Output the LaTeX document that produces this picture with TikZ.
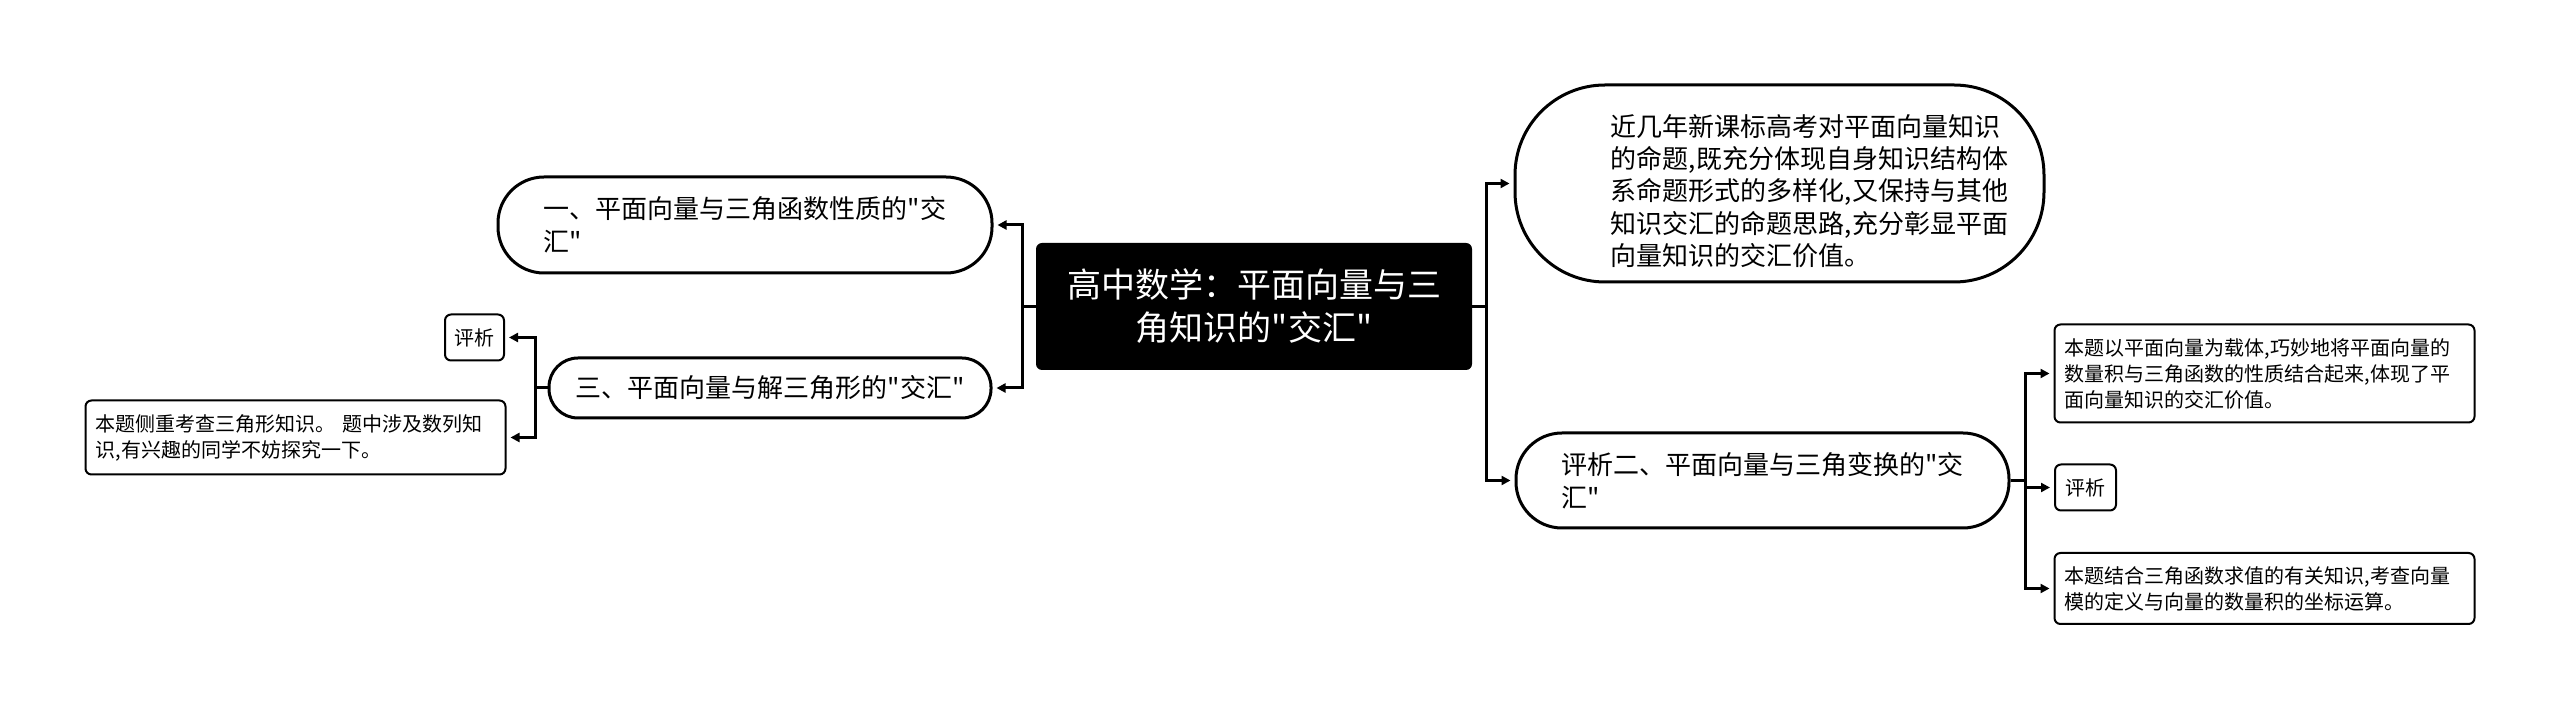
\documentclass[tikz,border=0pt]{standalone}
\usepackage{fontspec}
\setmainfont{Noto Sans CJK SC}[Ligatures=TeXOff]
\usetikzlibrary{arrows.meta}

\begin{document}
\begin{tikzpicture}[x=0.5pt, y=-0.5pt,
  root/.style={fill=black, text=white, rounded corners=3pt,
    minimum width=218pt, minimum height=63.5pt, align=center,
    font=\fontsize{17pt}{21.5pt}\selectfont},
  topic/.style={draw, line width=1.5pt, align=left,
    font=\fontsize{13pt}{16.5pt}\selectfont},
  leaf/.style={draw, line width=1pt, rounded corners=3pt, align=left,
    font=\fontsize{10pt}{13pt}\selectfont},
  memo/.style={leaf, text width=200pt, inner xsep=5pt},
  arr/.style={-{Triangle[length=4.5pt, width=4.5pt]}, line width=1.5pt,
    shorten >=2pt},
]
  \useasboundingbox (0,0) rectangle (2560,710);

  \node[root] (root) at (1254,306.5)
    {高中数学：平面向量与三\\角知识的"交汇"};

  % right side
  \node[topic, rounded corners=45pt, minimum width=264.5pt,
    minimum height=98.5pt, font=\fontsize{13pt}{16.2pt}\selectfont]
    (intro) at (1779.5,183.5)
    {\hspace*{30pt}\raisebox{-5.5pt}[\height][\depth]{\begin{tabular}{@{}l@{}}
      近几年新课标高考对平面向量知识\\的命题,既充分体现自身知识结构体\\
      系命题形式的多样化,又保持与其他\\知识交汇的命题思路,充分彰显平面\\
      向量知识的交汇价值。\end{tabular}}};
  \node[topic, rounded corners=23pt, minimum width=246.5pt,
    minimum height=47.5pt] (two) at (1762.5,480.5)
    {评析二、平面向量与三角变换的"交\\汇"};
  \node[memo, minimum height=49pt] (twoa) at (2264.5,373.5)
    {本题以平面向量为载体,巧妙地将平面向量的\\数量积与三角函数的性质结合起来,体现了平\\面向量知识的交汇价值。};
  \node[leaf, minimum width=30.5pt, minimum height=23pt] (twob)
    at (2085.5,487.5) {评析};
  \node[memo, minimum height=35.5pt] (twoc) at (2264.5,588.5)
    {本题结合三角函数求值的有关知识,考查向量\\模的定义与向量的数量积的坐标运算。};

  % left side
  \node[topic, rounded corners=23pt, minimum width=247pt,
    minimum height=48pt] (one) at (745,225)
    {一、平面向量与三角函数性质的"交\\汇"};
  \node[topic, rounded corners=14.5pt, minimum width=221pt,
    minimum height=30pt] (three) at (770,388)
    {三、平面向量与解三角形的"交汇"};
  \node[leaf, minimum width=29.5pt, minimum height=23pt] (threea)
    at (474.5,337.5) {评析};
  \node[memo, minimum height=37pt] (threeb) at (295.5,437.5)
    {本题侧重考查三角形知识。 题中涉及数列知\\识,有兴趣的同学不妨探究一下。};

  \coordinate (lj) at (1022,306.5);
  \coordinate (rj) at (1486,306.5);
  \coordinate (tj) at (2025,480.5);
  \coordinate (hj) at (535,388);

  \draw[arr] (root.west) -- (lj) |- (one);
  \draw[arr] (lj) |- (three);
  \draw[arr] (root.east) -- (rj) |- (intro);
  \draw[arr] (rj) |- (two);

  \draw[arr] (two.east) -- (tj) |- (twoa);
  \draw[arr] (tj) |- (twob);
  \draw[arr] (tj) |- (twoc);

  \draw[arr] (three.west) -- (hj) |- (threea);
  \draw[arr] (hj) |- (threeb);
\end{tikzpicture}
\end{document}
